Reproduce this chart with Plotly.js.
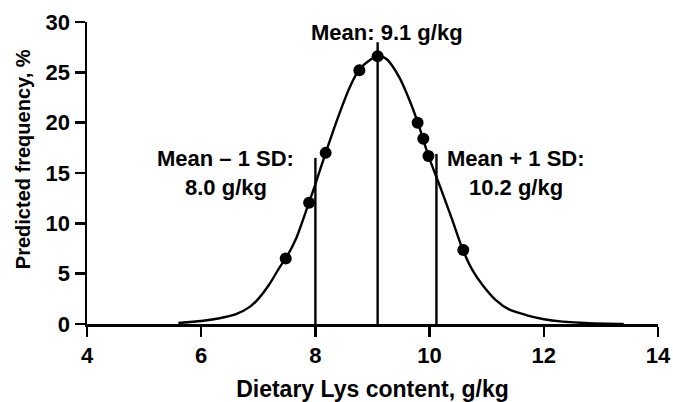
<!DOCTYPE html>
<html>
<head>
<meta charset="utf-8">
<script src="https://cdn.plot.ly/plotly-3.0.1.min.js"></script>
<style>html,body{margin:0;padding:0;background:#fff;}#chart{width:673px;height:402px;}</style>
</head>
<body>
<div id="chart"></div>
<script>
// Fitted curve
const curveX = [5.6, 6.0, 6.3, 6.6, 6.85, 7.0, 7.2, 7.37, 7.5, 7.67, 7.89, 8.0, 8.18, 8.42, 8.6, 8.77, 8.95, 9.1, 9.25, 9.47, 9.65, 9.8, 9.98, 10.2, 10.4, 10.58, 10.75, 10.93, 11.16, 11.39, 11.69, 11.98, 12.33, 12.8, 13.4];
const curveY = [0.1, 0.3, 0.55, 0.95, 1.7, 2.5, 4.0, 5.6, 6.7, 8.6, 12.1, 13.9, 17.0, 20.9, 23.5, 25.3, 26.2, 26.7, 26.3, 24.5, 22.2, 19.9, 16.7, 13.4, 10.3, 7.4, 5.35, 3.86, 2.38, 1.45, 0.89, 0.5, 0.23, 0.08, 0.0];
// Observed points
const pointX = [7.48, 7.89, 8.18, 8.77, 9.09, 9.79, 9.89, 9.98, 10.59];
const pointY = [6.5, 12.05, 17.0, 25.2, 26.6, 20.0, 18.4, 16.7, 7.36];
// Reference lines: mean - 1 SD, mean, mean + 1 SD
const refX = [8.0, 9.09, 10.12];
const refTop = [16.5, 28.0, 16.9];
const refLabels = [["Mean \u2013 1 SD:", "8.0 g/kg"], ["Mean: 9.1 g/kg"], ["Mean + 1 SD:", "10.2 g/kg"]];
const xTitle = "Dietary Lys content, g/kg";
const yTitle = "Predicted frequency, %";

const font = "Liberation Sans, Arial, sans-serif";
const traces = [];
refX.forEach((x, i) => {
  traces.push({x: [x, x], y: [0, refTop[i]], mode: 'lines', line: {color: '#000', width: 2.4}, hoverinfo: 'skip', showlegend: false});
});
traces.push({x: curveX, y: curveY, mode: 'lines', line: {color: '#000', width: 2.4, shape: 'spline', smoothing: 0.7}, showlegend: false});
traces.push({x: pointX, y: pointY, mode: 'markers', marker: {color: '#000', size: 12}, showlegend: false, cliponaxis: false});

const annFont = {family: font, size: 22, color: '#000'};
const annotations = [
  {x: 9.26, y: 29.0, text: '<b>' + refLabels[1][0] + '</b>'},
  {x: 6.43, y: 16.4, text: '<b>' + refLabels[0][0] + '</b>'},
  {x: 6.43, y: 13.6, text: '<b>' + refLabels[0][1] + '</b>'},
  {x: 11.52, y: 16.4, text: '<b>' + refLabels[2][0] + '</b>'},
  {x: 11.52, y: 13.6, text: '<b>' + refLabels[2][1] + '</b>'}
].map(a => Object.assign({xref: 'x', yref: 'y', showarrow: false, font: annFont, xanchor: 'center', yanchor: 'middle'}, a));
annotations.push({xref: 'paper', yref: 'paper', x: -0.112, y: 0.546, xanchor: 'center', yanchor: 'middle',
  textangle: -90, showarrow: false, text: '<b>' + yTitle + '</b>', font: {family: font, size: 20, color: '#000'}});

const axisCommon = {
  showline: true, linecolor: '#000', linewidth: 2.5,
  ticks: 'outside', ticklen: 10, tickwidth: 2.5, tickcolor: '#000',
  showgrid: false, zeroline: false,
  tickfont: {family: font, size: 22, color: '#000', weight: 'bold'}
};
const layout = {
  width: 673, height: 402,
  margin: {l: 87, r: 15, t: 22, b: 78},
  paper_bgcolor: '#fff', plot_bgcolor: '#fff',
  xaxis: Object.assign({}, axisCommon, {range: [4, 14], tickvals: [4, 6, 8, 10, 12, 14],
    title: {text: '<b>' + xTitle + '</b>', font: {family: font, size: 23, color: '#000'}, standoff: 16}}),
  yaxis: Object.assign({}, axisCommon, {range: [0, 30], tickvals: [0, 5, 10, 15, 20, 25, 30]}),
  annotations: annotations
};
Plotly.newPlot('chart', traces, layout, {displayModeBar: false, staticPlot: true});
</script>
</body>
</html>
